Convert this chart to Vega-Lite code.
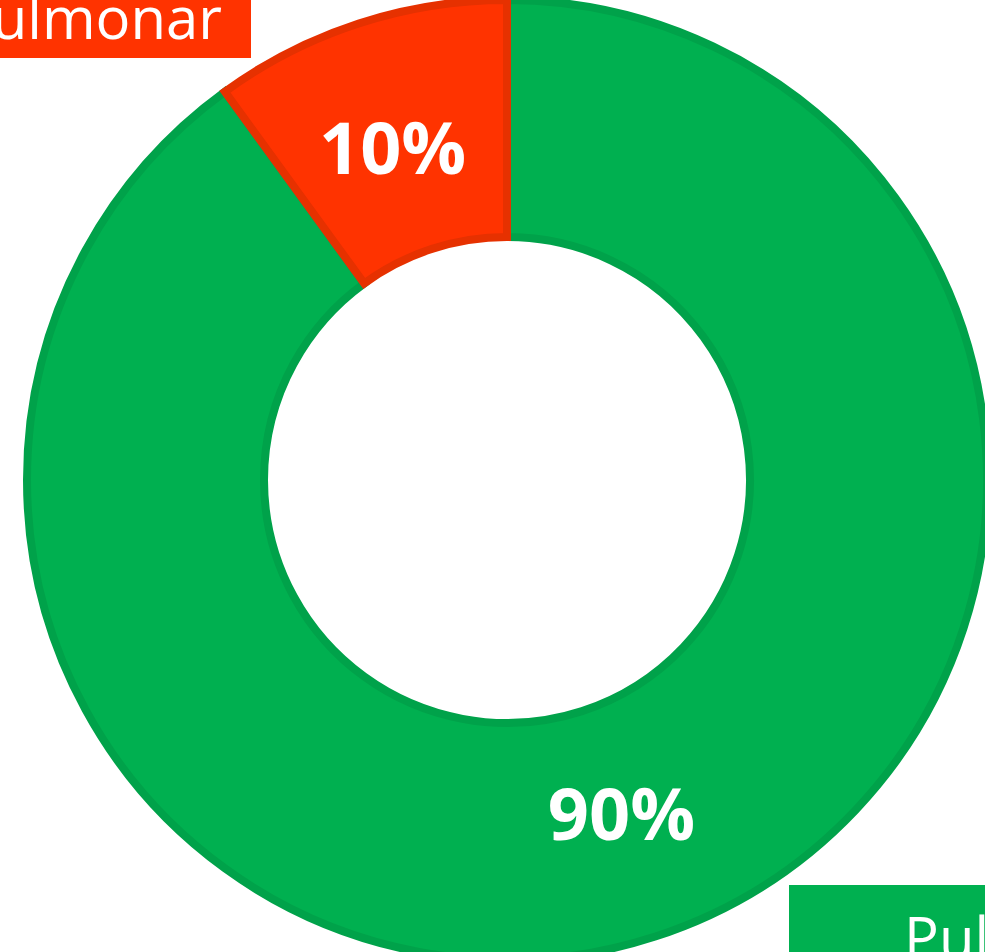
{
  "$schema": "https://vega.github.io/schema/vega-lite/v6.json",
  "width": 956,
  "height": 944,
  "autosize": "none",
  "padding": {"left": 29, "top": 8, "right": 0, "bottom": 0},
  "background": "white",
  "view": {"stroke": null},
  "data": {
    "values": [
      {"categoria": "Pulmonar", "proporcion": 0.9},
      {"categoria": "Extrapulmonar", "proporcion": 0.1}
    ]
  },
  "layer": [
    {
      "mark": {"type": "point", "filled": true, "opacity": 1, "size": 4, "strokeWidth": 0},
      "encoding": {
        "color": {"field": "categoria", "type": "nominal", "scale": {"domain": ["Pulmonar", "Extrapulmonar"], "range": ["#00B050", "#FF3300"]}, "legend": null},
        "shape": {"field": "categoria", "type": "nominal", "scale": {"domain": ["Pulmonar", "Extrapulmonar"], "range": ["M282,405H560V560H282Z", "M-600,-540H-256V-422H-600Z"]}, "legend": null}
      }
    },
    {
      "mark": {"type": "arc", "outerRadius": 480, "innerRadius": 243, "strokeWidth": 8},
      "encoding": {
        "theta": {"field": "proporcion", "type": "quantitative", "stack": true},
        "order": {"field": "proporcion", "type": "quantitative", "sort": "descending"},
        "color": {"field": "categoria", "type": "nominal", "scale": {"domain": ["Pulmonar", "Extrapulmonar"], "range": ["#00B050", "#FF3300"]}, "legend": null},
        "stroke": {"field": "categoria", "type": "nominal", "scale": {"domain": ["Pulmonar", "Extrapulmonar"], "range": ["#00A24A", "#E63100"]}, "legend": null}
      }
    },
    {
      "mark": {"type": "text", "radius": 352, "thetaOffset": -0.017, "dy": 5, "font": "Open Sans", "fontSize": 72, "fontWeight": "bold", "color": "white", "align": "center", "baseline": "middle"},
      "encoding": {
        "theta": {"field": "proporcion", "type": "quantitative", "stack": true},
        "order": {"field": "proporcion", "type": "quantitative", "sort": "descending"},
        "text": {"field": "proporcion", "type": "quantitative", "format": ".0%"}
      }
    },
    {
      "transform": [{"filter": "datum.categoria == 'Extrapulmonar'"}],
      "mark": {"type": "text", "theta": 5.7094, "radius": 525.1, "font": "Open Sans", "fontSize": 58, "color": "white", "align": "right", "baseline": "alphabetic"},
      "encoding": {"text": {"field": "categoria", "type": "nominal"}}
    },
    {
      "transform": [{"filter": "datum.categoria == 'Pulmonar'"}],
      "mark": {"type": "text", "theta": 2.4495, "radius": 622.1, "font": "Open Sans", "fontSize": 58, "color": "white", "align": "left", "baseline": "alphabetic"},
      "encoding": {"text": {"field": "categoria", "type": "nominal"}}
    }
  ]
}
